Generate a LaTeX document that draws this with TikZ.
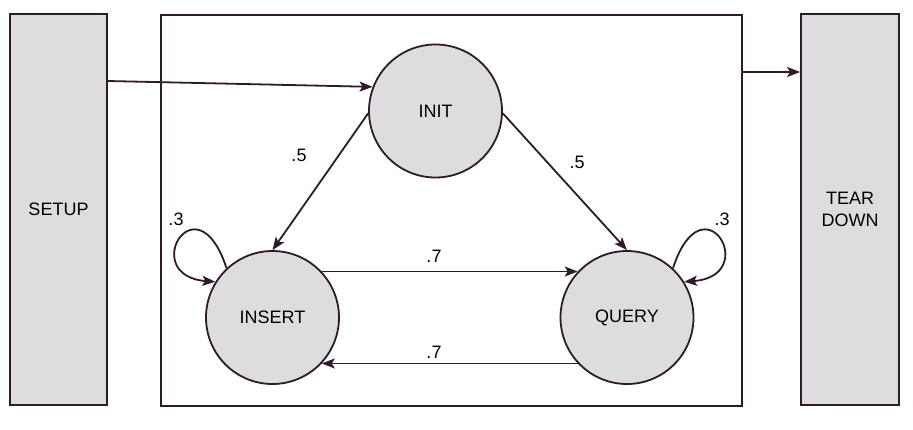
\documentclass[tikz,border=0pt]{standalone}
\usepackage{fontspec}
\setmainfont{Liberation Sans}
\usetikzlibrary{arrows.meta}
\definecolor{linec}{RGB}{46,26,43}
\definecolor{fillc}{RGB}{221,221,221}
\begin{document}
\begin{tikzpicture}[x=1pt,y=-1pt,
  every node/.style={font=\fontsize{18}{22}\selectfont, text=black},
  box/.style={draw=linec, line width=1.8pt, fill=fillc, minimum width=97pt, minimum height=391pt, inner sep=0pt, align=center},
  frm/.style={draw=linec, line width=1.8pt, minimum width=581pt, minimum height=391pt, inner sep=0pt},
  state/.style={circle, draw=linec, line width=1.8pt, fill=fillc, minimum size=133pt, inner sep=0pt},
  arr/.style={draw=linec, line width=1.8pt, -{Stealth[length=13pt,width=10pt,inset=3pt]}},
  lbl/.style={inner sep=0pt}]
\useasboundingbox (0,0) rectangle (913,429);
\node[box] (setup) at (58.5,209.5) {SETUP};
\node[frm] (frame) at (451.5,210.5) {};
\node[box, minimum width=98pt] (tear) at (850,209.5) {TEAR\\DOWN};
\node[state] (init) at (435.5,111) {INIT};
\node[state] (ins) at (272.5,317.5) {INSERT};
\node[state] (query) at (627,317.5) {QUERY};
\coordinate (s1) at (0,81);
\coordinate (t1) at (0,72);
% connectors
\draw[arr] (setup.east |- s1) -- (init.159);
\draw[arr] (frame.east |- t1) -- (tear.west |- t1);
\draw[arr] (init.182) -- (ins.north);
\draw[arr] (init.358) -- (query.north);
\draw[arr] (ins.43) -- (query.137);
\draw[arr] (query.223) -- (ins.317);
\draw[arr] (ins.133) .. controls +(-30,-92) and +(-78,-6) .. (ins.148);
\draw[arr] (query.47) .. controls +(30,-92) and +(78,-6) .. (query.32);
% labels
\node[lbl] (l1) at (299,155) {.5};
\node[lbl] (l2) at (577,162) {.5};
\node[lbl] (l3) at (434,256) {.7};
\node[lbl] (l4) at (434,352) {.7};
\node[lbl] (l5) at (176,219) {.3};
\node[lbl] (l6) at (722,219) {.3};
\end{tikzpicture}
\end{document}
